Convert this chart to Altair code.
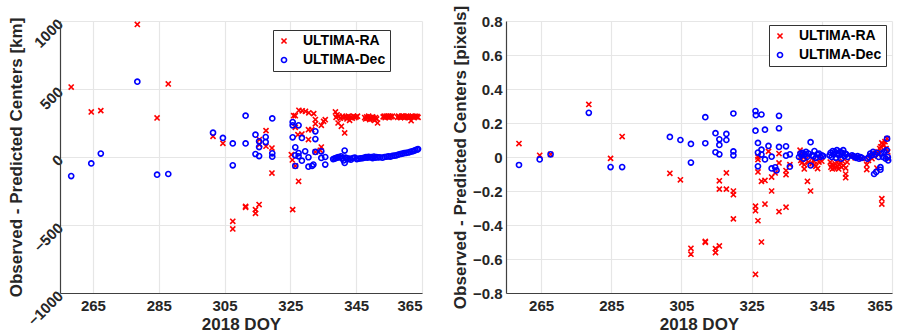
import altair as alt
import pandas as pd

SERIES = ["ULTIMA-RA", "ULTIMA-Dec"]
COLORS = ["#ff0000", "#0000ff"]
X_PATH = "M-1,-1L1,1M-1,1L1,-1"
X_TICKS = [265, 285, 305, 325, 345, 365]

# ---------------- left panel (km) ----------------
km_ra_doy = [258.4, 264.5, 267.4, 278.5, 284.5, 287.9, 301.5, 304.5, 307.5, 307.5,
             311.4, 311.4, 314.4, 314.4, 315.5, 315.6, 315.6, 317.6, 317.6, 319.4,
             319.4, 325.3, 325.6, 325.7, 326.0, 326.5, 326.5, 326.5, 327.3, 327.5,
             327.6, 328.5, 328.6, 329.6, 330.5, 330.5, 330.6, 331.5, 332.1, 332.6,
             332.6, 332.6, 334.1, 334.4, 334.4, 335.1, 335.6,
             338.7, 338.9, 339.2, 339.5, 339.8, 340.2, 340.5, 340.8, 341.1, 341.5,
             341.8, 342.2, 342.6, 343.0, 343.4, 343.8, 344.2, 344.6, 345.0, 345.4,
             347.6, 347.9, 348.2, 348.5, 348.8, 349.1, 349.4, 349.7, 350.0, 350.3,
             350.6, 350.9, 351.2, 351.5, 353.2, 353.5, 353.8, 354.1, 354.4, 354.7,
             355.0, 355.3, 355.6, 356.0, 357.6, 357.9, 358.2, 358.5, 358.8, 359.1,
             359.4, 359.7, 360.0, 360.3, 360.6, 360.9, 361.2, 361.5, 361.7, 362.0,
             362.3, 362.6, 362.9, 363.2, 363.5, 363.8]
km_ra = [514, 331, 341, 975, 287, 537, 152, 101, -473, -529,
         -363, -370, -387, -414, -350, 128, 91, 194, 79, 66,
         -118, 17, -22, -387, 304, 218, -66, 304, 164, -179,
         343, 169, 340, 336, 201, 128, 325, 201, 319, 275,
         244, 37, 49, 233, 73, 262, 274,
         331, 292, 310, 250, 300, 285, 226, 300, 290, 177,
         295, 280, 300, 270, 295, 285, 300, 290, 295, 300,
         290, 280, 295, 285, 300, 275, 290, 280, 295, 285,
         270, 290, 280, 250, 295, 300, 290, 300, 295, 300,
         290, 300, 295, 300, 292, 300, 295, 290, 300, 295,
         300, 290, 295, 300, 292, 298, 290, 295, 267, 300,
         295, 290, 300, 295, 298, 292]

km_dec_doy = [258.4, 264.5, 267.4, 278.5, 284.5, 287.9, 301.5, 304.5, 307.5, 307.5,
              311.4, 311.4, 314.4, 314.4, 315.5, 315.5, 315.5, 317.5, 317.5, 319.5,
              319.5, 319.5, 325.7, 325.7, 325.7, 326.5, 326.5, 326.5, 327.5, 327.5,
              327.5, 328.5, 328.5, 329.5, 330.5, 330.5, 331.6, 332.0, 332.6, 332.6,
              332.6, 334.4, 334.4, 335.6, 335.6,
              338.0, 338.4, 338.8, 339.2, 339.6, 340.0, 340.4, 340.8, 341.2, 341.5,
              341.5, 341.8, 342.2, 342.6, 343.0, 343.4, 344.0, 344.6, 345.2, 345.8,
              346.4, 347.0, 347.6, 348.0, 348.4, 348.8, 349.2, 349.6, 350.0, 350.4,
              350.8, 351.2, 351.6, 352.2, 353.0, 353.6, 354.2, 354.8, 355.4, 356.0,
              356.6, 357.2, 357.8, 358.4, 359.0, 359.6, 360.2, 360.8, 361.4, 362.0,
              362.5, 363.0, 363.5, 363.8]
km_dec = [-140, -47, 25, 554, -130, -125, 179, 140, 100, -61,
          304, 100, 164, 22, 115, 73, 7, 147, 110, 284,
          27, 2, 257, 233, 145, 71, 12, -66, 233, 29,
          5, 140, -27, 42, -2, -71, -66, -56, 189, 132,
          37, 42, -7, 0, -56,
          -15, -12, -8, -5, 0, -3, 5, -10, -25, 47,
          -44, -5, -10, -15, -12, -20, -8, -5, -15, -12,
          -10, -8, -5, 0, -5, 2, -3, 0, -8, 3,
          -5, 0, -3, -2, -5, 0, 2, 5, 3, 8,
          10, 12, 18, 22, 25, 28, 30, 33, 38, 42,
          45, 50, 55, 58]

# ---------------- right panel (pixels) ----------------
px_ra_doy = [258.7, 264.6, 267.7, 278.6, 284.8, 288.1, 301.7, 304.7, 307.7, 307.7,
             311.8, 311.8, 314.7, 314.7, 315.8, 315.8, 315.8, 317.8, 317.8, 319.8,
             319.8, 319.8, 326.1, 326.1, 326.1, 326.8, 326.8, 326.8, 326.8, 327.8,
             327.8, 328.8, 328.8, 329.8, 330.7, 330.7, 331.7, 332.8, 332.8, 332.8,
             334.8, 334.8, 334.8, 335.9,
             338.8, 339.0, 339.3, 339.6, 340.0, 340.0, 340.4, 340.9, 341.2, 341.8,
             342.2, 342.6, 342.9, 343.3, 343.8, 344.2, 344.6, 345.0, 347.4, 347.6,
             347.8, 348.0, 348.3, 348.5, 348.8, 349.0, 349.3, 349.5, 349.8, 350.0,
             350.3, 350.6, 350.9, 351.2, 351.8, 351.8, 351.8, 352.2, 353.5, 354.5,
             355.5, 356.5, 357.8, 357.8, 358.3, 358.8, 359.3, 359.8, 360.3, 360.7,
             361.0, 361.2, 361.5, 361.8, 362.1, 362.1, 362.1, 362.4, 362.7, 363.0,
             363.3, 363.6, 363.8, 363.9]
px_ra = [0.079, 0.010, 0.016, 0.309, -0.008, 0.120, -0.096, -0.134, -0.537, -0.572,
         -0.497, -0.502, -0.539, -0.562, -0.523, -0.140, -0.189, -0.094, -0.189, -0.200,
         -0.222, -0.364, -0.289, -0.316, -0.690, -0.088, -0.375, 0.000, -0.015, -0.143,
         -0.500, -0.138, -0.277, 0.033, -0.118, -0.200, -0.094, -0.035, -0.322, 0.020,
         -0.080, -0.104, -0.295, -0.045,
         0.040, -0.020, -0.035, 0.010, -0.045, -0.070, -0.015, -0.143, -0.030, -0.200,
         -0.040, -0.020, -0.045, -0.055, -0.068, -0.030, -0.010, -0.025, -0.030, -0.060,
         -0.045, -0.070, -0.050, -0.065, -0.040, -0.060, -0.030, -0.055, -0.070, -0.045,
         -0.035, -0.060, -0.025, -0.050, -0.100, -0.122, -0.065, -0.030, 0.005, -0.005,
         0.000, -0.010, -0.074, -0.045, -0.020, 0.010, -0.010, 0.005, 0.020, -0.065,
         0.030, 0.014, 0.050, 0.060, 0.083, -0.245, -0.277, 0.075, 0.070, 0.090,
         0.050, 0.108, 0.030, -0.010]

px_dec_doy = [258.7, 264.6, 267.7, 278.6, 284.8, 288.1, 301.7, 304.7, 307.7, 307.7,
              311.8, 311.8, 314.7, 314.7, 315.8, 315.8, 315.8, 317.8, 317.8, 319.8,
              319.8, 319.8, 326.1, 326.2, 326.1, 326.8, 326.8, 326.8, 327.8, 327.8,
              327.8, 328.8, 328.8, 329.8, 330.7, 330.7, 331.7, 332.1, 332.8, 332.8,
              332.8, 334.8, 334.8, 335.9, 335.9,
              338.5, 338.9, 339.2, 339.5, 339.8, 340.2, 340.5, 340.8, 341.2, 341.8,
              341.8, 342.2, 342.6, 342.9, 343.3, 343.7, 344.2, 344.6, 345.0, 345.4,
              347.2, 347.5, 347.8, 348.1, 348.4, 348.7, 349.0, 349.3, 349.6, 349.9,
              350.2, 350.5, 350.8, 351.1, 351.4, 351.7, 352.0, 352.4, 353.6, 354.0,
              354.4, 354.8, 355.2, 355.6, 356.0, 356.4, 358.0, 358.4, 358.8, 359.2,
              359.6, 359.9, 360.2, 360.5, 360.8, 361.2, 361.7, 361.7, 362.0, 362.4,
              362.8, 363.2, 363.5, 363.6, 363.8, 363.9]
px_dec = [-0.047, -0.014, 0.016, 0.260, -0.059, -0.059, 0.118, 0.100, 0.077, -0.033,
          0.234, 0.081, 0.140, 0.028, 0.104, 0.071, 0.016, 0.136, 0.100, 0.256,
          0.033, 0.010, 0.270, 0.246, 0.155, 0.083, 0.026, -0.055, 0.250, 0.043,
          0.014, 0.161, -0.014, 0.065, 0.002, -0.067, -0.061, -0.079, 0.242, 0.169,
          0.059, 0.063, 0.008, 0.016, -0.057,
          0.000, 0.020, 0.010, 0.025, -0.010, 0.015, 0.030, 0.000, 0.020, 0.087,
          -0.050, 0.010, 0.005, 0.035, -0.005, 0.015, 0.020, 0.000, 0.010, 0.005,
          0.010, 0.025, 0.000, 0.035, 0.015, 0.030, -0.005, 0.040, 0.020, 0.010,
          0.030, -0.010, 0.025, 0.040, 0.005, 0.020, 0.015, 0.000, 0.010, 0.005,
          0.000, -0.005, 0.005, -0.010, 0.000, -0.005, -0.010, 0.000, 0.020, 0.010,
          0.030, -0.100, 0.015, -0.088, 0.025, 0.000, -0.075, -0.060, 0.020, 0.000,
          0.030, -0.010, 0.040, 0.108, 0.000, -0.020]

FONT = "Liberation Sans"


def frame(doy_ra, ra, doy_dec, dec):
    rows = [{"doy": d, "val": v, "series": SERIES[0]} for d, v in zip(doy_ra, ra)]
    rows += [{"doy": d, "val": v, "series": SERIES[1]} for d, v in zip(doy_dec, dec)]
    return pd.DataFrame(rows)


def panel(df, ytitle, ydomain, yticks, rotated, yfmt, lx, ly, width):
    legend = alt.Legend(
        title=None, orient="none", legendX=lx, legendY=ly,
        labelFont=FONT, labelFontSize=14, labelFontWeight="bold", labelColor="#000000",
        strokeColor="#333333", fillColor="#ffffff", padding=4,
        symbolSize=26, symbolStrokeWidth=1.6, symbolOffset=0, labelOffset=12,
        rowPadding=5,
    )
    if rotated:
        yaxis = alt.Axis(values=yticks, format=yfmt, title=ytitle,
                         labelAngle=315, labelAlign="right", labelBaseline="middle",
                         labelPadding=0, titlePadding=0)
    else:
        yaxis = alt.Axis(values=yticks, format=yfmt, title=ytitle, labelPadding=4,
                         titlePadding=3)
    return alt.Chart(df).mark_point(filled=False, strokeWidth=1.6, opacity=1).encode(
        x=alt.X("doy:Q", scale=alt.Scale(domain=[255, 365], nice=False, zero=False),
                axis=alt.Axis(values=X_TICKS, title="2018 DOY", format="d",
                              labelPadding=5, titlePadding=3)),
        y=alt.Y("val:Q", scale=alt.Scale(domain=ydomain, nice=False, zero=False), axis=yaxis),
        color=alt.Color("series:N", scale=alt.Scale(domain=SERIES, range=COLORS), legend=legend),
        shape=alt.Shape("series:N", scale=alt.Scale(domain=SERIES, range=[X_PATH, "circle"]), legend=legend),
        size=alt.value(26),
    ).properties(width=width, height=272)


left = panel(frame(km_ra_doy, km_ra, km_dec_doy, km_dec),
             "Observed - Predicted Centers [km]", [-1000, 1000],
             [-1000, -500, 0, 500, 1000], True, "d", 213, 9, 362)
right = panel(frame(px_ra_doy, px_ra, px_dec_doy, px_dec),
              "Observed - Predicted Centers [pixels]", [-0.8, 0.8],
              [-0.8, -0.6, -0.4, -0.2, 0, 0.2, 0.4, 0.6, 0.8], False, "~g", 263, 4, 386)

chart = alt.hconcat(left, right, spacing=84, bounds="flush").resolve_scale(
    color="independent", shape="independent"
).resolve_legend(
    color="independent", shape="independent"
).properties(
    padding={"left": 7, "top": 5, "right": 2, "bottom": 2}
).configure_view(stroke=None).configure_axis(
    labelFont=FONT, labelFontSize=15, labelFontWeight="bold", labelColor="#262626",
    titleFont=FONT, titleFontSize=17, titleFontWeight="bold", titleColor="#262626",
    gridColor="#e6e6e6", gridWidth=1.2, domainColor="#404040", domainWidth=1.2,
    ticks=False,
)

chart.save("out.html", embed_options={"renderer": "svg", "actions": False})
